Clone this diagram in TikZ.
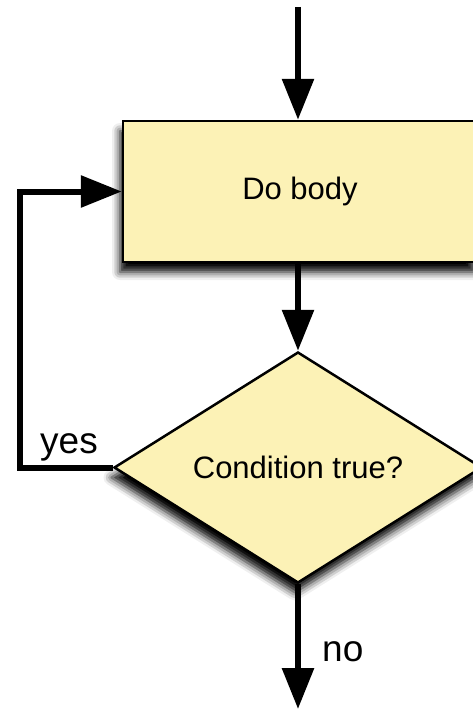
\documentclass[tikz,border=0pt]{standalone}
\usepackage{fontspec}
\setmainfont{Liberation Sans}
\usetikzlibrary{shapes.geometric}
\usetikzlibrary{arrows.meta}
\usetikzlibrary{shadows.blur}

\definecolor{boxyellow}{RGB}{252,242,182}

\begin{document}
\begin{tikzpicture}[x=1pt, y=-1pt,
        block/.style={draw=black, line width=2.5pt, fill=boxyellow,
            blur shadow={shadow xshift=-3pt, shadow yshift=-10pt,
                shadow blur radius=8pt, shadow opacity=100},
            font=\fontsize{31}{36}\selectfont},
        flow/.style={line width=6pt, -{Triangle[length=41pt, width=31pt]}},
        lbl/.style={inner sep=0pt, font=\fontsize{37}{42}\selectfont}]
        \useasboundingbox (0, 0) rectangle (472, 709);

        \coordinate (start) at (298, 7);
        \coordinate (stop) at (298, 709);
        \coordinate (bend) at (20, 467.5);

        \node[block, rectangle, minimum width=354pt, minimum height=141pt]
            (body) at (300, 191.5) {Do body};
        \node[block, diamond, inner sep=0pt, aspect=1.593,
            minimum width=368pt, minimum height=231pt]
            (cond) at (298, 467.5) {Condition true?};

        \draw[flow] (start) -- (start |- body.north);
        \draw[flow] (body.south -| start) -- (cond.north);
        \draw[flow] (cond.west) -- (bend) |- (body.west);
        \draw[flow] (cond.south) -- (stop);

        \node[lbl, anchor=base] (yes) at (69, 453) {yes};
        \node[lbl, anchor=base west] (no) at (322, 661) {no};
\end{tikzpicture}
\end{document}
